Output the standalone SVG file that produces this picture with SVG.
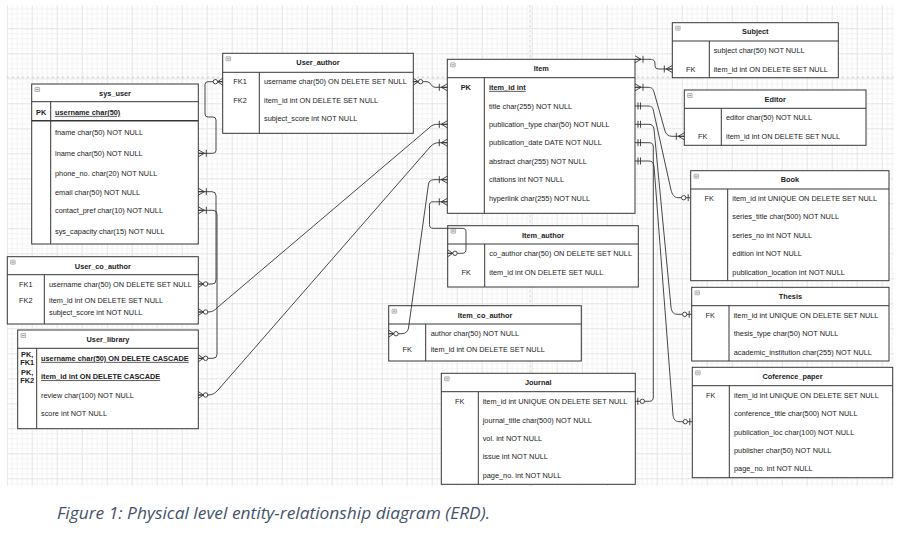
<svg xmlns="http://www.w3.org/2000/svg" xmlns:xlink="http://www.w3.org/1999/xlink" width="902" height="542" viewBox="0 0 902 542">
<style>
.t{font-family:"Liberation Sans",Arial,sans-serif;font-size:7.35px;fill:#222}
.h{font-weight:bold;text-anchor:middle}
.k{text-anchor:middle}
.b{font-weight:bold}
.u{font-weight:bold;text-decoration:underline}
.box{fill:#fff;stroke:#363636;stroke-width:1}
.ln{stroke:#363636;stroke-width:1;fill:none}
.c{fill:none;stroke:#333;stroke-width:0.9}
.mk{fill:none;stroke:#333;stroke-width:0.9}
.mc{fill:#fff;stroke:#333;stroke-width:0.9}
.pb{stroke:#c4c4c4;stroke-width:0.8;stroke-dasharray:2.5,2.5;fill:none}
.cap{font-family:"Open Sans","Noto Sans","Liberation Sans",sans-serif;font-style:italic;font-size:16.5px;fill:#44546a}
</style>
<defs>
<pattern id="grid" x="6.7" y="3.3" width="25" height="25" patternUnits="userSpaceOnUse">
<path d="M5.5 0V25M10.5 0V25M15.5 0V25M20.5 0V25M0 5.5H25M0 10.5H25M0 15.5H25M0 20.5H25" stroke="#f3f3f3" stroke-width="1" fill="none"/>
<path d="M0.5 0V25M0 0.5H25" stroke="#e4e4e4" stroke-width="1" fill="none"/>
</pattern>
<g id="ico"><rect x="0" y="0" width="4.6" height="4" rx="0.5" fill="#ececec" stroke="#8a8a8a" stroke-width="0.6"/><path d="M1 2H3.6" stroke="#666" stroke-width="0.6"/></g>
<marker id="om" markerUnits="userSpaceOnUse" orient="auto-start-reverse" overflow="visible" markerWidth="1" markerHeight="1" refX="0" refY="0">
<path class="mk" d="M-6 0L0 -3.5M-6 0L0 3.5M-6 0H0M-8 -3.5V3.5"/>
</marker>
<marker id="zm" markerUnits="userSpaceOnUse" orient="auto-start-reverse" overflow="visible" markerWidth="1" markerHeight="1" refX="0" refY="0">
<path class="mk" d="M-5 0L0 -3.5M-5 0L0 3.5M-5 0H0"/>
<circle class="mc" cx="-7.3" cy="0" r="2.2"/>
</marker>
<marker id="mo" markerUnits="userSpaceOnUse" orient="auto-start-reverse" overflow="visible" markerWidth="1" markerHeight="1" refX="0" refY="0">
<path class="mk" d="M-3 -3.5V3.5M-5.5 -3.5V3.5"/>
</marker>
<marker id="zo" markerUnits="userSpaceOnUse" orient="auto-start-reverse" overflow="visible" markerWidth="1" markerHeight="1" refX="0" refY="0">
<path class="mk" d="M-2.5 -3.5V3.5"/>
<circle class="mc" cx="-7" cy="0" r="2.2"/>
</marker>
</defs>

<rect x="0" y="0" width="902" height="542" fill="#fff"/>
<rect x="6.7" y="5" width="887" height="481" fill="url(#grid)"/>
<path class="pb" d="M6.7 77.2H893.7M530 5V486"/>

<g id="sys_user">
<rect class="box" x="31.7" y="84" width="166.6" height="160"/>
<path class="ln" d="M31.7 101.7H198.3M50.7 101.7V244"/>
<path d="M31.7 120.7H198.3" stroke="#363636" stroke-width="1.6"/>
<use xlink:href="#ico" x="35" y="87.5"/>
<text class="t h" x="115" y="95.9">sys_user</text>
<text class="t k b" x="41.2" y="114.9">PK</text>
<text class="t u" x="55" y="114.9">username char(50)</text>
<text class="t" x="55" y="134.9">fname char(50) NOT NULL</text>
<text class="t" x="55" y="156.3">lname char(50) NOT NULL</text>
<text class="t" x="55" y="176.3">phone_no. char(20) NOT NULL</text>
<text class="t" x="55" y="194.6">email char(50) NOT NULL</text>
<text class="t" x="55" y="212.9">contact_pref char(10) NOT NULL</text>
<text class="t" x="55" y="233.6">sys_capacity char(15) NOT NULL</text>
</g>

<g id="User_author">
<rect class="box" x="222.7" y="53.3" width="190.6" height="80"/>
<path class="ln" d="M222.7 72.3H413.3M259.3 72.3V133.3"/>
<use xlink:href="#ico" x="226" y="56.8"/>
<text class="t h" x="318" y="65.3">User_author</text>
<text class="t k" x="240" y="84.3">FK1</text>
<text class="t k" x="240" y="102.6">FK2</text>
<text class="t" x="264" y="84.3">username char(50) ON DELETE SET NULL</text>
<text class="t" x="264" y="102.6">item_id int ON DELETE SET NULL</text>
<text class="t" x="264" y="120.9">subject_score int NOT NULL</text>
</g>

<g id="Item">
<rect class="box" x="447.3" y="59.3" width="187.7" height="154"/>
<path class="ln" d="M447.3 77.7H635M484.3 77.7V213.3"/>
<use xlink:href="#ico" x="450.6" y="62.8"/>
<text class="t h" x="541.2" y="71.3">Item</text>
<text class="t k b" x="465.8" y="89.9">PK</text>
<text class="t u" x="489" y="89.9">item_id int</text>
<text class="t" x="489" y="108.6">title char(255) NOT NULL</text>
<text class="t" x="489" y="126.9">publication_type char(50) NOT NULL</text>
<text class="t" x="489" y="145.3">publication_date DATE NOT NULL</text>
<text class="t" x="489" y="163.6">abstract char(255) NOT NULL</text>
<text class="t" x="489" y="182.3">citations int NOT NULL</text>
<text class="t" x="489" y="200.6">hyperlink char(255) NOT NULL</text>
</g>

<g id="Subject">
<rect class="box" x="672.3" y="22.7" width="166" height="55"/>
<path class="ln" d="M672.3 41H838.3M709.3 41V77.7"/>
<use xlink:href="#ico" x="675.6" y="26.2"/>
<text class="t h" x="755.3" y="34.3">Subject</text>
<text class="t" x="713.7" y="52.9">subject char(50) NOT NULL</text>
<text class="t k" x="690.8" y="71.6">FK</text>
<text class="t" x="713.7" y="71.6">item_id int ON DELETE SET NULL</text>
</g>

<g id="Editor">
<rect class="box" x="684.3" y="90" width="181.7" height="55.3"/>
<path class="ln" d="M684.3 108.3H866M721.3 108.3V145.3"/>
<use xlink:href="#ico" x="687.6" y="93.5"/>
<text class="t h" x="775.2" y="101.9">Editor</text>
<text class="t" x="726" y="120.3">editor char(50) NOT NULL</text>
<text class="t k" x="702.8" y="138.9">FK</text>
<text class="t" x="726" y="138.9">item_id int ON DELETE SET NULL</text>
</g>

<g id="Book">
<rect class="box" x="690.7" y="170.7" width="198.3" height="110"/>
<path class="ln" d="M690.7 189H889M727.7 189V280.7"/>
<use xlink:href="#ico" x="694" y="174.2"/>
<text class="t h" x="789.9" y="182.3">Book</text>
<text class="t k" x="709.2" y="200.6">FK</text>
<text class="t" x="732.3" y="200.6">item_id int UNIQUE ON DELETE SET NULL</text>
<text class="t" x="732.3" y="219.3">series_title char(500) NOT NULL</text>
<text class="t" x="732.3" y="237.6">series_no int NOT NULL</text>
<text class="t" x="732.3" y="255.9">edition int NOT NULL</text>
<text class="t" x="732.3" y="274.6">publication_location int NOT NULL</text>
</g>

<g id="Thesis">
<rect class="box" x="691.7" y="287.3" width="197.3" height="73.7"/>
<path class="ln" d="M691.7 305.7H889M729 305.7V361"/>
<use xlink:href="#ico" x="695" y="290.8"/>
<text class="t h" x="790.4" y="299.3">Thesis</text>
<text class="t k" x="710.3" y="317.6">FK</text>
<text class="t" x="733.7" y="317.6">item_id int UNIQUE ON DELETE SET NULL</text>
<text class="t" x="733.7" y="336.3">thesis_type char(50) NOT NULL</text>
<text class="t" x="733.7" y="354.6">academic_institution char(255) NOT NULL</text>
</g>

<g id="Coference_paper">
<rect class="box" x="692.3" y="367.3" width="200.4" height="110.4"/>
<path class="ln" d="M692.3 385.7H892.7M729.3 385.7V477.7"/>
<use xlink:href="#ico" x="695.6" y="370.8"/>
<text class="t h" x="792.5" y="379.3">Coference_paper</text>
<text class="t k" x="710.8" y="397.6">FK</text>
<text class="t" x="734" y="397.6">item_id int UNIQUE ON DELETE SET NULL</text>
<text class="t" x="734" y="416.3">conference_title char(500) NOT NULL</text>
<text class="t" x="734" y="434.6">publication_loc char(100) NOT NULL</text>
<text class="t" x="734" y="452.9">publisher char(50) NOT NULL</text>
<text class="t" x="734" y="471.3">page_no. int NOT NULL</text>
</g>

<g id="Journal">
<rect class="box" x="441.3" y="373.3" width="194" height="111"/>
<path class="ln" d="M441.3 391.7H635.3M478.3 391.7V484.3"/>
<use xlink:href="#ico" x="444.6" y="376.8"/>
<text class="t h" x="538.3" y="385.3">Journal</text>
<text class="t k" x="459.8" y="403.9">FK</text>
<text class="t" x="482.7" y="403.9">item_id int UNIQUE ON DELETE SET NULL</text>
<text class="t" x="482.7" y="422.6">journal_title char(500) NOT NULL</text>
<text class="t" x="482.7" y="440.9">vol. int NOT NULL</text>
<text class="t" x="482.7" y="459.3">issue int NOT NULL</text>
<text class="t" x="482.7" y="477.6">page_no. int NOT NULL</text>
</g>

<g id="Item_author">
<rect class="box" x="447.7" y="225.7" width="190.6" height="61.3"/>
<path class="ln" d="M447.7 244H638.3M484.7 244V287"/>
<use xlink:href="#ico" x="451" y="229.2"/>
<text class="t h" x="543" y="237.6">Item_author</text>
<text class="t" x="489.3" y="255.9">co_author char(50) ON DELETE SET NULL</text>
<text class="t k" x="466.2" y="274.6">FK</text>
<text class="t" x="489.3" y="274.6">item_id int ON DELETE SET NULL</text>
</g>

<g id="Item_co_author">
<rect class="box" x="388.7" y="305.7" width="192.6" height="55.3"/>
<path class="ln" d="M388.7 324H581.3M425.7 324V361"/>
<use xlink:href="#ico" x="392" y="309.2"/>
<text class="t h" x="485" y="317.6">Item_co_author</text>
<text class="t" x="430.7" y="336.3">author char(50) NOT NULL</text>
<text class="t k" x="407.2" y="351.6">FK</text>
<text class="t" x="430.7" y="351.6">item_id int ON DELETE SET NULL</text>
</g>

<g id="User_co_author">
<rect class="box" x="7.3" y="256.7" width="191" height="67.3"/>
<path class="ln" d="M7.3 274.7H198.3M44.3 274.7V324"/>
<use xlink:href="#ico" x="10.6" y="260.2"/>
<text class="t h" x="102.8" y="268.6">User_co_author</text>
<text class="t k" x="25.8" y="286.6">FK1</text>
<text class="t k" x="25.8" y="302.6">FK2</text>
<text class="t" x="49" y="286.6">username char(50) ON DELETE SET NULL</text>
<text class="t" x="49" y="302.6">item_id int ON DELETE SET NULL</text>
<text class="t" x="49" y="314.6">subject_score int NOT NULL</text>
</g>

<g id="User_library">
<rect class="box" x="17.7" y="330" width="180.6" height="98.7"/>
<path class="ln" d="M17.7 348.3H198.3M36.7 348.3V428.7"/>
<use xlink:href="#ico" x="21" y="333.5"/>
<text class="t h" x="108" y="342.3">User_library</text>
<text class="t k b" x="27.2" y="356.9">PK,</text>
<text class="t k b" x="27.2" y="364.9">FK1</text>
<text class="t k b" x="27.2" y="374.9">PK,</text>
<text class="t k b" x="27.2" y="383.3">FK2</text>
<text class="t u" x="41" y="360.9">username char(50) ON DELETE CASCADE</text>
<text class="t u" x="41" y="379.3">item_id int ON DELETE CASCADE</text>
<text class="t" x="41" y="397.6">review char(100) NOT NULL</text>
<text class="t" x="41" y="415.9">score int NOT NULL</text>
</g>

<g id="connectors">
<path class="c" marker-start="url(#zm)" marker-end="url(#om)" d="M222.7 81.7H208Q205 81.7 205 84.7V114Q205 117 208 117H213Q216 117 216 120V150.3Q216 153.3 213 153.3H198.3"/>
<path class="c" marker-start="url(#om)" marker-end="url(#zm)" d="M198.3 191.7H212Q216 191.7 216 195.7V280Q216 284 212 284H198.3"/>
<path class="c" marker-start="url(#om)" marker-end="url(#zm)" d="M198.3 210.3H213Q217 210.3 217 214.3V354.3Q217 358.3 213 358.3H198.3"/>
<path class="c" marker-start="url(#zm)" marker-end="url(#om)" d="M198.3 312H208C213 312 215 310 218 307L429 128C432 125 434 124.3 438 124.3H447.3"/>
<path class="c" marker-start="url(#zm)" marker-end="url(#om)" d="M198.3 395H208C213 395 215 393 218 390L430 147C433 144 435 142.7 439 142.7H447.3"/>
<path class="c" marker-start="url(#zm)" marker-end="url(#om)" d="M388.7 333.7H402C406 333.7 408 331 408.5 328L428.5 184C429 181 431 179.7 434 179.7H447.3"/>
<path class="c" marker-start="url(#zm)" marker-end="url(#om)" d="M447.7 253.3H462C465 253.3 466 252 466 249V232C466 229.5 465 228.3 462 228.3H433C430.5 228.3 429.5 227 429.5 224.5V205.5C429.5 203 430.5 201.8 433 201.8H447.3"/>
<path class="c" marker-start="url(#zm)" marker-end="url(#om)" d="M413.3 81.7H427C431 81.7 431 87.3 435 87.3H447.3"/>
<path class="c" marker-start="url(#om)" marker-end="url(#om)" d="M635 59.3H650C654 59.3 655 61 655 64V65C655 68 656 69 659 69H672.3"/>
<path class="c" marker-start="url(#om)" marker-end="url(#om)" d="M635 87.3H648C652 87.3 653 89 654 92L665 131C666 134 668 136.3 672 136.3H684.3"/>
<path class="c" marker-start="url(#mo)" marker-end="url(#zo)" d="M635 106H648C652 106 653 108 653.5 111L671 190C672 194 674 197.7 678 197.7H690.7"/>
<path class="c" marker-start="url(#mo)" marker-end="url(#zo)" d="M635 124.3H649C652 124.3 653.5 126 654 129L671 307C671.5 311 673 314.3 677 314.3H691.7"/>
<path class="c" marker-start="url(#mo)" marker-end="url(#zo)" d="M635 142.7H649.3C652 142.7 653.3 144 653.3 147V397C653.3 400 652 401.3 649.3 401.3H635.3"/>
<path class="c" marker-start="url(#mo)" marker-end="url(#zo)" d="M635 161H649C652 161 653.5 163 654 166L673 415C673.5 419 675 421.7 679 421.7H692.3"/>
</g>

<text class="cap" x="57" y="519" textLength="433" lengthAdjust="spacingAndGlyphs">Figure 1: Physical level entity-relationship diagram (ERD).</text>
</svg>
